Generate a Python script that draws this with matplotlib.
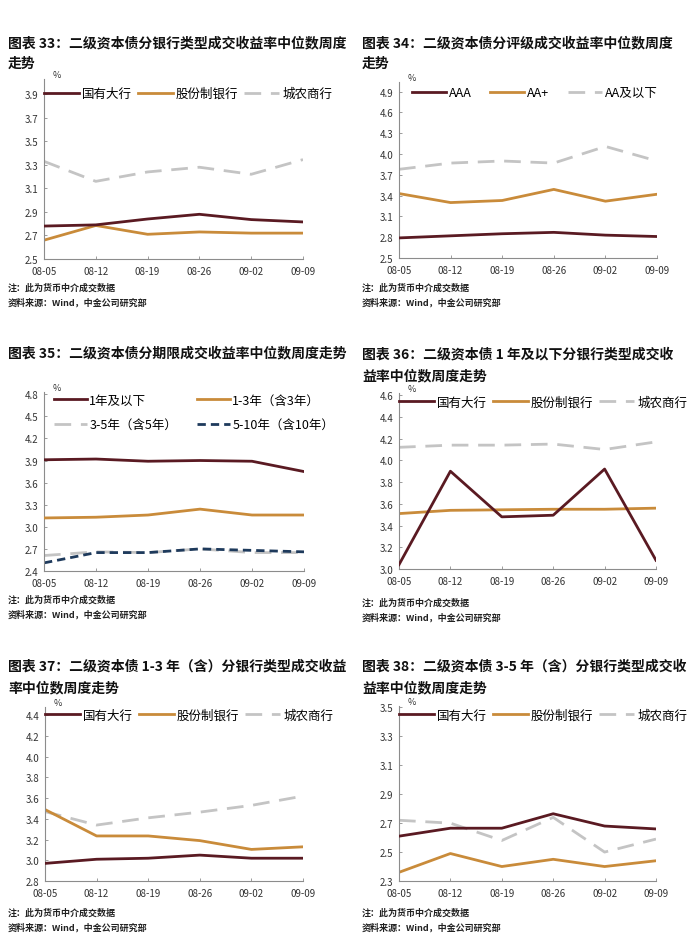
import matplotlib
matplotlib.use("Agg")
import matplotlib.pyplot as plt

plt.rcParams["font.family"] = ["Noto Sans CJK SC", "DejaVu Sans"]

dates = ["08-05", "08-12", "08-19", "08-26", "09-02", "09-09"]

# 图表33 分银行类型
c33_guoyou = [2.78, 2.79, 2.84, 2.88, 2.835, 2.815]
c33_gufen = [2.66, 2.785, 2.71, 2.73, 2.72, 2.72]
c33_chengnong = [3.33, 3.16, 3.24, 3.28, 3.22, 3.345]

# 图表34 分评级
c34_aaa = [2.79, 2.82, 2.85, 2.87, 2.83, 2.81]
c34_aap = [3.43, 3.30, 3.33, 3.49, 3.32, 3.42]
c34_aa = [3.78, 3.87, 3.90, 3.87, 4.11, 3.90]

# 图表35 分期限
c35_1y = [3.91, 3.92, 3.89, 3.90, 3.89, 3.75]
c35_1_3y = [3.12, 3.13, 3.16, 3.24, 3.16, 3.16]
c35_3_5y = [2.61, 2.66, 2.65, 2.70, 2.65, 2.65]
c35_5_10y = [2.51, 2.65, 2.65, 2.70, 2.68, 2.66]

# 图表36 1年及以下
c36_guoyou = [3.04, 3.90, 3.48, 3.495, 3.92, 3.08]
c36_gufen = [3.51, 3.54, 3.545, 3.55, 3.55, 3.56]
c36_chengnong = [4.12, 4.14, 4.14, 4.15, 4.10, 4.17]

# 图表37 1-3年
c37_guoyou = [2.97, 3.01, 3.02, 3.05, 3.02, 3.02]
c37_gufen = [3.49, 3.235, 3.235, 3.19, 3.105, 3.13]
c37_chengnong = [3.47, 3.34, 3.41, 3.465, 3.53, 3.62]

# 图表38 3-5年
c38_guoyou = [2.61, 2.665, 2.665, 2.765, 2.68, 2.66]
c38_gufen = [2.36, 2.49, 2.40, 2.45, 2.40, 2.44]
c38_chengnong = [2.72, 2.70, 2.58, 2.74, 2.50, 2.59]

bank_names = ["国有大行", "股份制银行", "城农商行"]

RED = "#5a1a22"
GOLD = "#c98b3a"
GRAY = "#c4c4c4"
NAVY = "#1e3a5c"

W, H = 700, 937
fig = plt.figure(figsize=(7, 9.37), dpi=100)


def px_axes(l, t, r, b):
    return fig.add_axes([l / W, 1 - b / H, (r - l) / W, (b - t) / H])


def title(x, y, lines):
    for i, s in enumerate(lines):
        fig.text(x / W, 1 - (y + i * 21) / H, s, fontsize=10, fontweight="bold",
                 va="center", ha="left", color="#111111")


def notes(x, y):
    fig.text(x / W, 1 - y / H, "注：此为货币中介成交数据", fontsize=6.5,
             va="center", color="#222222", fontweight="bold")
    fig.text(x / W, 1 - (y + 15) / H, "资料来源：Wind，中金公司研究部", fontsize=6.5,
             va="center", color="#222222", fontweight="bold")


def style(ax, ylim, yticks, fmt):
    ax.set_xlim(0, len(dates) - 1)
    ax.set_ylim(*ylim)
    ax.set_yticks(yticks)
    ax.set_yticklabels([fmt % v for v in yticks])
    ax.set_xticks(range(len(dates)))
    ax.set_xticklabels(dates)
    for s in ["top", "right"]:
        ax.spines[s].set_visible(False)
    for s in ["left", "bottom"]:
        ax.spines[s].set_color("#8c8c8c")
        ax.spines[s].set_linewidth(0.8)
    ax.tick_params(axis="both", direction="in", length=2.5, width=0.6,
                   color="#8c8c8c", labelsize=7, labelcolor="#333333", pad=4)
    ax.tick_params(axis="x", pad=5)
    ax.text(0.05, 1.0, "%", transform=ax.transAxes, fontsize=6.5,
            ha="center", va="bottom", color="#333333")


def bank_lines(ax, a, b, c):
    ax.plot(a, color=RED, lw=2.0, label=bank_names[0], zorder=3)
    ax.plot(b, color=GOLD, lw=2.0, label=bank_names[1], zorder=2)
    ax.plot(c, color=GRAY, lw=2.0, ls=(0, (6, 3.5)), label=bank_names[2], zorder=1)


def legend(ax, ncol=3, y=0.985, colsp=0.45, hl=2.8):
    ax.legend(loc="upper left", bbox_to_anchor=(0.0, y), ncol=ncol, frameon=False,
              fontsize=9, handlelength=hl, handletextpad=0.25,
              columnspacing=colsp, borderaxespad=0, borderpad=0)


# 图表33
title(8, 43, ["图表 33：二级资本债分银行类型成交收益率中位数周度", "走势"])
ax = px_axes(44, 80, 303, 260)
bank_lines(ax, c33_guoyou, c33_gufen, c33_chengnong)
style(ax, (2.5, 4.03), [2.5, 2.7, 2.9, 3.1, 3.3, 3.5, 3.7, 3.9], "%.1f")
legend(ax, y=0.955)
notes(8, 288)

# 图表34
title(362, 43, ["图表 34：二级资本债分评级成交收益率中位数周度", "走势"])
ax = px_axes(399, 83, 657, 259)
ax.plot(c34_aaa, color=RED, lw=2.0, label="AAA", zorder=3)
ax.plot(c34_aap, color=GOLD, lw=2.0, label="AA+", zorder=2)
ax.plot(c34_aa, color=GRAY, lw=2.0, ls=(0, (6, 3.5)), label="AA及以下", zorder=1)
style(ax, (2.5, 5.04), [2.5, 2.8, 3.1, 3.4, 3.7, 4.0, 4.3, 4.6, 4.9], "%.1f")
ax.legend(loc="upper left", bbox_to_anchor=(0.05, 0.975), ncol=3, frameon=False,
          fontsize=9, handlelength=2.7, handletextpad=0.25, columnspacing=1.5,
          borderaxespad=0, borderpad=0)
notes(362, 288)

# 图表35
title(8, 353, ["图表 35：二级资本债分期限成交收益率中位数周度走势"])
ax = px_axes(44, 393, 304, 572)
l1, = ax.plot(c35_1y, color=RED, lw=2.0, label="1年及以下", zorder=3)
l2, = ax.plot(c35_1_3y, color=GOLD, lw=2.0, label="1-3年（含3年）", zorder=3)
l3, = ax.plot(c35_3_5y, color=GRAY, lw=2.0, ls=(0, (6, 3.5)), label="3-5年（含5年）", zorder=1)
l4, = ax.plot(c35_5_10y, color=NAVY, lw=2.0, ls=(0, (3, 1.8)), label="5-10年（含10年）", zorder=2)
style(ax, (2.4, 4.83), [2.4, 2.7, 3.0, 3.3, 3.6, 3.9, 4.2, 4.5, 4.8], "%.1f")
ax.legend(handles=[l1, l3, l2, l4], loc="upper left", bbox_to_anchor=(0.04, 0.99),
          ncol=2, frameon=False, fontsize=9, handlelength=2.6, handletextpad=0.2,
          columnspacing=1.6, labelspacing=0.9, borderaxespad=0, borderpad=0)
notes(8, 600)

# 图表36
title(362, 355, ["图表 36：二级资本债 1 年及以下分银行类型成交收", "益率中位数周度走势"])
ax = px_axes(399, 394, 656, 570)
bank_lines(ax, c36_guoyou, c36_gufen, c36_chengnong)
style(ax, (3.0, 4.62), [3.0, 3.2, 3.4, 3.6, 3.8, 4.0, 4.2, 4.4, 4.6], "%.1f")
legend(ax, y=0.985)
notes(362, 603)

# 图表37
title(8, 667, ["图表 37：二级资本债 1-3 年（含）分银行类型成交收益", "率中位数周度走势"])
ax = px_axes(45, 708, 303, 882)
bank_lines(ax, c37_guoyou, c37_gufen, c37_chengnong)
style(ax, (2.8, 4.48), [2.8, 3.0, 3.2, 3.4, 3.6, 3.8, 4.0, 4.2, 4.4], "%.1f")
legend(ax, y=0.99)
notes(8, 913)

# 图表38
title(362, 667, ["图表 38：二级资本债 3-5 年（含）分银行类型成交收", "益率中位数周度走势"])
ax = px_axes(399, 707, 656, 882)
bank_lines(ax, c38_guoyou, c38_gufen, c38_chengnong)
style(ax, (2.3, 3.51), [2.3, 2.5, 2.7, 2.9, 3.1, 3.3, 3.5], "%.1f")
legend(ax, y=0.985)
notes(362, 913)

fig.savefig("out.png", dpi=100, facecolor="white")
